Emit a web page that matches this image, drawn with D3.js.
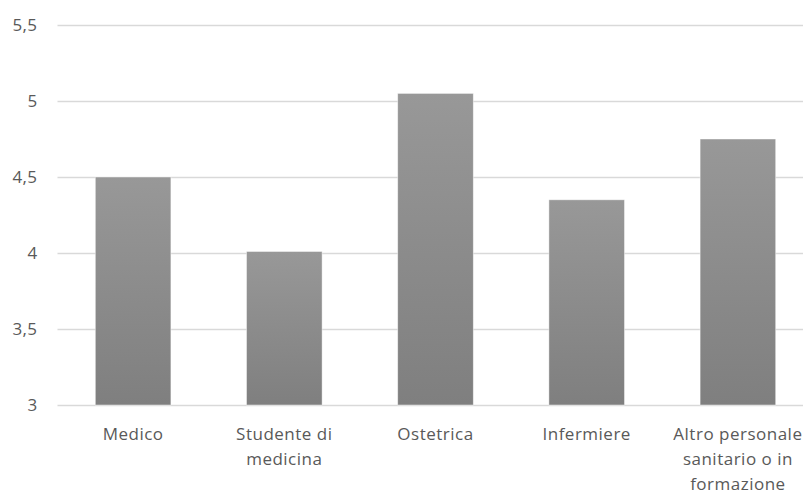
<!DOCTYPE html>
<html>
<head>
<meta charset="utf-8">
<script src="https://cdn.jsdelivr.net/npm/d3@7"></script>
<style>
  html, body { margin: 0; padding: 0; background: #ffffff; overflow: hidden; }
  svg { display: block; }
  text { font-family: "Open Sans", "Liberation Sans", sans-serif; fill: #595959; }
</style>
</head>
<body>
<svg id="chart" width="803" height="490"></svg>
<script>
// Categories (wrapped label lines) and mean scores
const categories = ["Medico", "Studente di medicina", "Ostetrica", "Infermiere", "Altro personale sanitario o in formazione"];
const labelLines = [
  ["Medico"],
  ["Studente di", "medicina"],
  ["Ostetrica"],
  ["Infermiere"],
  ["Altro personale", "sanitario o in", "formazione"]
];
const values = [4.5, 4.01, 5.05, 4.35, 4.75];
const yTicks = [3, 3.5, 4, 4.5, 5, 5.5];
const yTickLabels = ["3", "3,5", "4", "4,5", "5", "5,5"];

const width = 803, height = 490;
// plot area runs slightly past the right edge of the canvas
const plotLeft = 57.5, plotRight = 813.5;
const plotTop = 25, plotBottom = 405;

const svg = d3.select("#chart");

const x = d3.scaleBand()
  .domain(categories)
  .range([plotLeft, plotRight])
  .paddingInner(0.5)
  .paddingOuter(0.25);

const y = d3.scaleLinear()
  .domain([3, 5.5])
  .range([plotBottom, plotTop]);

// Vertical gradient applied per bar
const defs = svg.append("defs");
const grad = defs.append("linearGradient")
  .attr("id", "barGrad")
  .attr("x1", 0).attr("y1", 0).attr("x2", 0).attr("y2", 1);
grad.append("stop").attr("offset", "0%").attr("stop-color", "#989898");
grad.append("stop").attr("offset", "100%").attr("stop-color", "#7f7f7f");

// Gridlines and value labels
const yAxis = d3.axisLeft(y)
  .tickValues(yTicks)
  .tickFormat((d, i) => yTickLabels[i])
  .tickSize(-(plotRight - plotLeft))
  .tickPadding(20);

const gy = svg.append("g")
  .attr("transform", `translate(${plotLeft},0)`)
  .call(yAxis);
gy.select(".domain").remove();
gy.selectAll(".tick line")
  .attr("stroke", "#d9d9d9")
  .attr("stroke-width", 1.3);
gy.selectAll(".tick text")
  .attr("font-size", 17)
  .attr("letter-spacing", 0.4)
  .style("fill", "#595959");

// Bars
svg.append("g")
  .selectAll("rect")
  .data(values)
  .join("rect")
  .attr("x", (d, i) => x(categories[i]))
  .attr("y", d => y(d))
  .attr("width", x.bandwidth())
  .attr("height", d => y(3) - y(d))
  .attr("fill", "url(#barGrad)")
  .attr("stroke", "rgba(255,255,255,0.55)")
  .attr("stroke-width", 0.8);

// Category labels
const lineHeight = 25;
const gx = svg.append("g");
labelLines.forEach((lines, i) => {
  const cx = x(categories[i]) + x.bandwidth() / 2;
  const t = gx.append("text")
    .attr("text-anchor", "middle")
    .attr("font-size", 17)
    .attr("letter-spacing", 0.5);
  lines.forEach((ln, j) => {
    t.append("tspan")
      .attr("x", cx)
      .attr("y", y(3) + 34.5 + j * lineHeight)
      .text(ln);
  });
});
</script>
</body>
</html>
